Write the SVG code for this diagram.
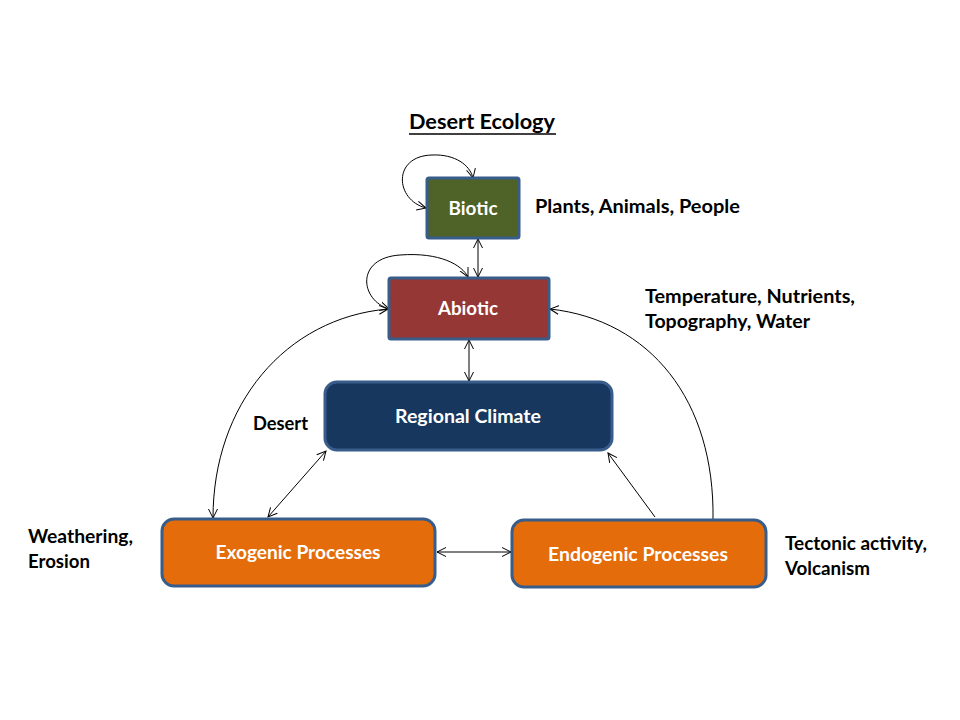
<svg xmlns="http://www.w3.org/2000/svg" width="960" height="720" viewBox="0 0 960 720">
<style>
.box{stroke:#385d8a;stroke-width:3}
.lbl{font-family:Lato,"Liberation Sans",sans-serif;font-weight:bold;font-size:18px;fill:#ffffff;text-anchor:middle}
.side{font-family:Lato,"Liberation Sans",sans-serif;font-weight:bold;font-size:18px;fill:#000000}
.con{fill:none;stroke:#000;stroke-width:1;marker-end:url(#ah)}
.both{marker-start:url(#ah)}
</style>
<defs>
<marker id="ah" markerUnits="userSpaceOnUse" markerWidth="12" markerHeight="12" refX="9" refY="5" orient="auto-start-reverse" viewBox="0 0 12 10">
<path d="M0,0.5 L9,5 L0,9.5" fill="none" stroke="#000" stroke-width="1"/>
</marker>
</defs>
<rect width="960" height="720" fill="#ffffff"/>
<g id="title">
<text x="482" y="129" class="side" style="font-size:21px" text-anchor="middle" textLength="146" lengthAdjust="spacingAndGlyphs">Desert Ecology</text>
<line x1="409" y1="134" x2="556" y2="134" stroke="#000" stroke-width="1.5"/>
</g>
<g id="connectors">
<path class="con both" d="M426,208 C395,200 392,156 432,155 C455,154 470,165 473,178"/>
<path class="con both" d="M478,239 L478,277"/>
<path class="con both" d="M389,309 C360,300 355,258 400,255 C440,252 462,265 468,277"/>
<path class="con both" d="M469,340 L469,381"/>
<path class="con both" d="M388,309 C285,318 213,405 213,518"/>
<path class="con both" d="M326,451 L268,517"/>
<path class="con both" d="M437,552 L511,552"/>
<path class="con" d="M655,517 L608,453"/>
<path class="con" d="M713,520 C715,400 650,320 550,309"/>
</g>
<g id="biotic">
<rect class="box" x="427" y="178" width="92" height="60" rx="2" fill="#4f6228"/>
<text class="lbl" x="473" y="215" style="font-size:19px" textLength="49" lengthAdjust="spacingAndGlyphs">Biotic</text>
</g>
<g id="abiotic">
<rect class="box" x="389" y="278" width="160" height="61" rx="2" fill="#953735"/>
<text class="lbl" x="468" y="315" style="font-size:19px" textLength="60" lengthAdjust="spacingAndGlyphs">Abiotic</text>
</g>
<g id="regional-climate">
<rect class="box" x="325" y="382" width="287" height="68" rx="12" fill="#17375e"/>
<text class="lbl" x="468" y="423" textLength="146" lengthAdjust="spacingAndGlyphs">Regional Climate</text>
</g>
<g id="exogenic">
<rect class="box" x="162" y="519" width="273" height="67" rx="12" fill="#e46c0a"/>
<text class="lbl" x="298" y="559" textLength="165" lengthAdjust="spacingAndGlyphs">Exogenic Processes</text>
</g>
<g id="endogenic">
<rect class="box" x="512" y="520" width="254" height="67" rx="12" fill="#e46c0a"/>
<text class="lbl" x="638" y="561" textLength="180" lengthAdjust="spacingAndGlyphs">Endogenic Processes</text>
</g>
<g id="labels">
<text class="side" x="535" y="213" textLength="205" lengthAdjust="spacingAndGlyphs">Plants, Animals, People</text>
<text class="side" x="645" y="303" textLength="210" lengthAdjust="spacingAndGlyphs">Temperature, Nutrients,</text>
<text class="side" x="645" y="328" textLength="165" lengthAdjust="spacingAndGlyphs">Topography, Water</text>
<text class="side" x="253" y="430" textLength="55" lengthAdjust="spacingAndGlyphs">Desert</text>
<text class="side" x="28" y="543" textLength="105" lengthAdjust="spacingAndGlyphs">Weathering,</text>
<text class="side" x="28" y="568" textLength="62" lengthAdjust="spacingAndGlyphs">Erosion</text>
<text class="side" x="785" y="550" textLength="142" lengthAdjust="spacingAndGlyphs">Tectonic activity,</text>
<text class="side" x="785" y="575" textLength="85" lengthAdjust="spacingAndGlyphs">Volcanism</text>
</g>
</svg>
